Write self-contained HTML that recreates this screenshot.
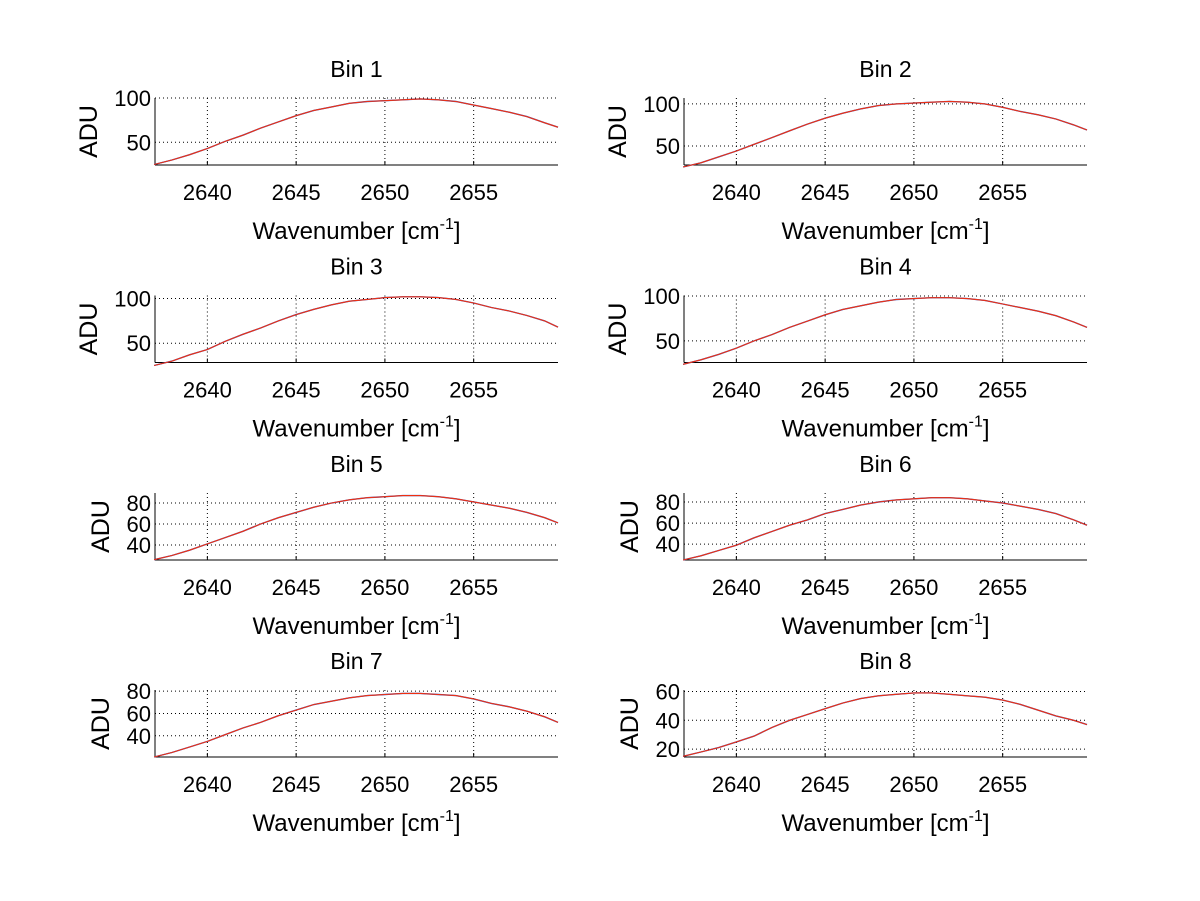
<!DOCTYPE html>
<html><head><meta charset="utf-8"><style>
body{margin:0;background:#fff;}
svg{display:block;font-family:"Liberation Sans",sans-serif;}
</style></head><body>
<svg id="fig" width="1200" height="901"></svg>
<script>
const xs=[2637,2638,2639,2640,2641,2642,2643,2644,2645,2646,2647,2648,2649,2650,2651,2652,2653,2654,2655,2656,2657,2658,2659,2659.75];
const bin1=[25,30,36,43,51,58,66,73,80,86,90,94,96,97,98,99,98,96,92,88,84,79,72,67];
const bin2=[25,30,37,44,52,60,68,76,83,89,94,98,100,101,102,103,102,100,96,91,87,82,75,69];
const bin3=[25,30,37,43,52,60,67,75,82,88,93,97,99,101,102,102,101,99,95,90,86,81,75,68];
const bin4=[24,29,35,42,50,57,65,72,79,85,89,93,96,97,98,98,97,95,91,87,83,78,71,65];
const bin5=[26,30,35,41,47,53,60,66,71,76,80,83,85,86,87,87,86,84,81,78,75,71,66,61];
const bin6=[25,29,34,39,46,52,58,63,69,73,77,80,82,83,84,84,83,81,79,76,73,69,63,58];
const bin7=[21,25,30,35,41,47,52,58,63,68,71,74,76,77,78,78,77,76,73,69,66,62,57,52];
const bin8=[15,18,21,25,29,35,40,44,48,52,55,57,58,59,59,58,57,56,54,51,47,43,40,37];
const series=[bin1,bin2,bin3,bin4,bin5,bin6,bin7,bin8];
const yLims=[[24.4,100],[27.4,107],[28.4,103.4],[26,100.5],[25.7,89.5],[25,88.5],[21,81],[14.5,61]];
const yTicks=[[50,100],[50,100],[50,100],[50,100],[40,60,80],[40,60,80],[40,60,80],[20,40,60]];
const xTicks=[2640,2645,2650,2655];
const xMin=2637.05,xMax=2659.75;
const NS="http://www.w3.org/2000/svg";
const svg=document.getElementById('fig');
function mk(t,a,p){const e=document.createElementNS(NS,t);for(const k in a)e.setAttribute(k,a[k]);(p||svg).appendChild(e);return e;}
const colL=[155,684],W=403,rowT=[98,295.5,493,690],H=67;
for(let i=0;i<8;i++){
  const L=colL[i%2],T=rowT[Math.floor(i/2)],B=T+H,R=L+W;
  const g=mk('g',{});
  
  
  const X=v=>L+(v-xMin)/(xMax-xMin)*W;
  const Y=v=>B-(v-yLims[i][0])/(yLims[i][1]-yLims[i][0])*H;
  xTicks.forEach(t=>{
    const l=mk('line',{x1:X(t),x2:X(t),y1:T,y2:B,stroke:'#000','stroke-width':1,'stroke-dasharray':'1,3'},g);
    
    mk('line',{x1:X(t),x2:X(t),y1:B,y2:B-4,stroke:'#000'},g);
    const tx=mk('text',{x:X(t),y:B+35,'font-size':22,'text-anchor':'middle'},g);tx.textContent=t;
    
  });
  yTicks[i].forEach(t=>{
    const l=mk('line',{x1:L,x2:R,y1:Y(t),y2:Y(t),stroke:'#000','stroke-width':1,'stroke-dasharray':'1,3'},g);
    
    const tx=mk('text',{x:L-4,y:Y(t)+8,'font-size':22,'text-anchor':'end'},g);tx.textContent=t;
    
  });
  mk('line',{x1:L,x2:L,y1:T,y2:B,stroke:'#000'},g);
  mk('line',{x1:L,x2:R,y1:B,y2:B,stroke:'#000'},g);
  const pts=xs.map((x,j)=>X(x).toFixed(1)+','+Y(series[i][j]).toFixed(1)).join(' ');
  const pb=mk('polyline',{points:pts,fill:'none',stroke:'#3050c0','stroke-width':1.4},g);
  
  const pr=mk('polyline',{points:pts,fill:'none',stroke:'#f03010','stroke-width':1.1},g);
  
  const ti=mk('text',{x:L+W/2,y:T-21,'font-size':23,'text-anchor':'middle'},g);ti.textContent='Bin '+(i+1);
  
  const xl=mk('text',{x:L+W/2,y:B+74,'font-size':24,'text-anchor':'middle'},g);
  xl.innerHTML='Wavenumber [cm<tspan dy="-10" font-size="16">-1</tspan><tspan dy="10">]</tspan>';
  
  const yx=(i>=4)?(L-46):(L-58);
  const yl=mk('text',{x:yx,y:T+H/2,'font-size':25,'text-anchor':'middle',transform:'rotate(-90 '+yx+' '+(T+H/2)+')'},g);yl.textContent='ADU';
  
}
</script>
</body></html>
